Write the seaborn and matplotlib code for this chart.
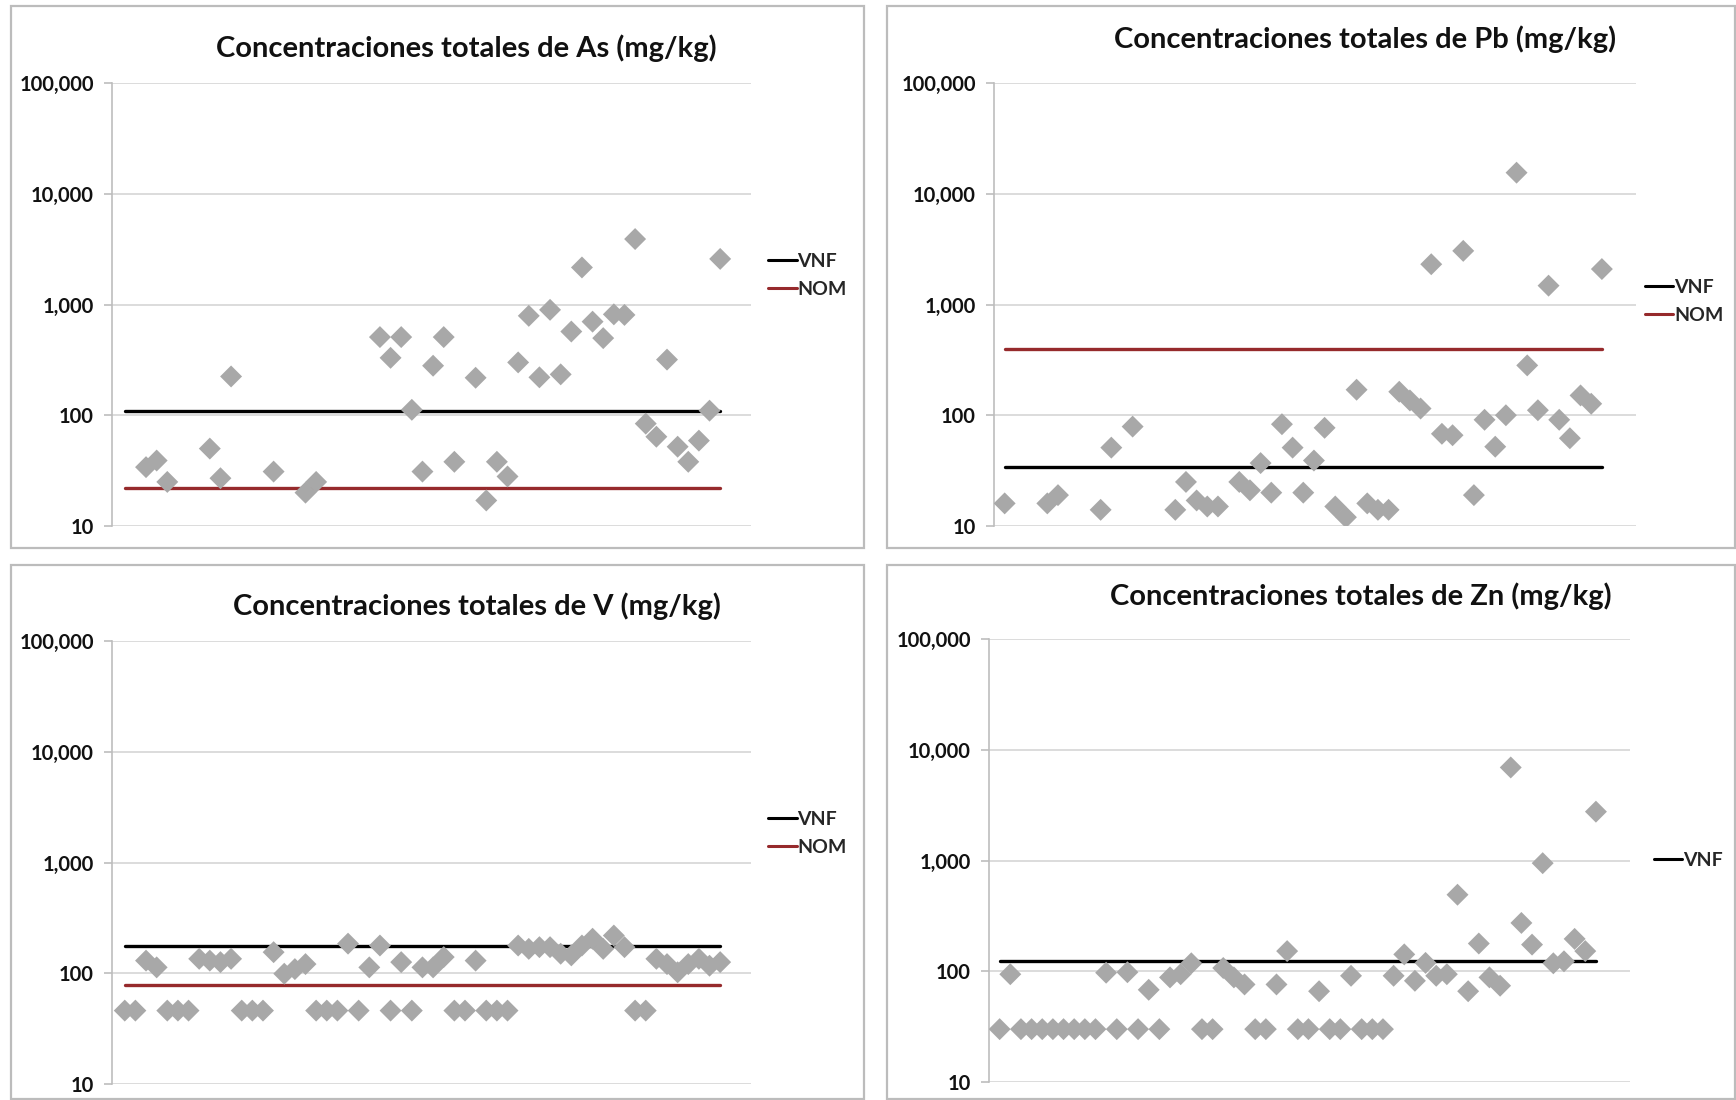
import numpy as np
import pandas as pd
import matplotlib
matplotlib.use("Agg")
import matplotlib.pyplot as plt
import seaborn as sns
from matplotlib.patches import Rectangle
from matplotlib.ticker import FixedLocator, FixedFormatter, NullLocator

nan = np.nan

# muestras (posición de categoría en el eje x)
muestra = list(range(57))

# concentraciones totales (mg/kg); nan = sin dato
as_vals = [nan, nan, 34, 39, 25, nan, nan, nan, 50, 27, 224, nan, nan, nan, 31, nan, nan, 20, 25, nan,
           nan, nan, nan, nan, 508, 330, 508, 112, 31, 280, 508, 38, nan, 218, 17, 38, 28, 300, 790, 220,
           895, 234, 570, 2160, 700, 497, 815, 805, 3900, 84, 64, 318, 52, 38, 59, 110, 2580]
pb_vals = [16, nan, nan, nan, 16, 19, nan, nan, nan, 14, 51, nan, 79, nan, nan, nan, 14, 25, 17, 15,
           15, nan, 25, 21, 37, 20, 83, 51, 20, 39, 77, 15, 12, 170, 16, 14, 14, 163, 136, 115,
           2310, 68, 66, 3050, 19, 91, 52, 100, 15500, 282, 111, 1480, 91, 62, 151, 127, 2090]
v_vals = [46, 46, 130, 113, 46, 46, 46, 135, 130, 126, 135, 46, 46, 46, 155, 99, 109, 121, 46, 46,
          46, 185, 46, 113, 178, 46, 126, 46, 113, 113, 140, 46, 46, 130, 46, 46, 46, 178, 166, 172,
          172, 150, 145, 178, 205, 166, 219, 172, 46, 46, 135, 121, 102, 121, 135, 117, 126]
zn_vals = [30, 94, 30, 30, 30, 30, 30, 30, 30, 30, 97, 30, 98, 30, 68, 30, 88, 94, 118, 30,
           30, 107, 88, 76, 30, 30, 76, 152, 30, 30, 66, 30, 30, 91, 30, 30, 30, 91, 142, 82,
           119, 91, 94, 491, 66, 178, 88, 74, 6920, 273, 174, 946, 118, 123, 196, 152, 2760]

elementos = ["As", "Pb", "V", "Zn"]
vnf = [110, 34, 177, 124]
nom = [22, 400, 78, None]

yticks = [10, 100, 1000, 10000, 100000]
ytick_labels = ["10", "100", "1,000", "10,000", "100,000"]

sns.set_theme(style="white")
plt.rcParams["font.family"] = ["Lato", "DejaVu Sans"]

W, H = 1736, 1100
fig = plt.figure(figsize=(W / 100, H / 100), dpi=100)

# geometría de cada gráfico en píxeles: (izq, der, arriba, abajo) del área de trazado
paneles = [
    dict(plot=(112, 751, 83, 526), borde=(11, 864, 6, 548), titulo=(466, 48), xlim=(-1.2, 58.9), leg=(1.015, 0.566)),
    dict(plot=(994, 1636, 83, 526), borde=(887, 1735, 6, 548), titulo=(1365, 39), xlim=(-1.0, 59.2), leg=(1.002, 0.507)),
    dict(plot=(112, 751, 641, 1084), borde=(11, 864, 565, 1099), titulo=(477, 606), xlim=(-1.2, 58.9), leg=(1.015, 0.566)),
    dict(plot=(989, 1630, 639, 1082), borde=(887, 1735, 565, 1099), titulo=(1361, 596), xlim=(-1.0, 59.2), leg=(1.025, 0.501)),
]
valores = [as_vals, pb_vals, v_vals, zn_vals]

for el, vals, lim_vnf, lim_nom, p in zip(elementos, valores, vnf, nom, paneles):
    l, r, t, b = p["plot"]
    ax = fig.add_axes([l / W, 1 - b / H, (r - l) / W, (b - t) / H])

    df = pd.DataFrame({"muestra": muestra, "conc": vals})
    df["VNF"] = lim_vnf

    sns.lineplot(data=df, x="muestra", y="VNF", ax=ax, color="black", linewidth=2.4,
                 label="VNF", zorder=2)
    if lim_nom is not None:
        df["NOM"] = lim_nom
        sns.lineplot(data=df, x="muestra", y="NOM", ax=ax, color="#962a2c", linewidth=2.4,
                     label="NOM", zorder=2)
    sns.scatterplot(data=df.dropna(subset=["conc"]), x="muestra", y="conc", ax=ax, marker="D",
                    s=125, color="#a8a8a8", edgecolor="none", zorder=3)

    ax.set_yscale("log")
    ax.set_ylim(10, 100000)
    ax.set_xlim(*p["xlim"])
    ax.yaxis.set_major_locator(FixedLocator(yticks))
    ax.yaxis.set_major_formatter(FixedFormatter(ytick_labels))
    ax.yaxis.set_minor_locator(NullLocator())
    ax.xaxis.set_major_locator(NullLocator())
    ax.set_xlabel("")
    ax.set_ylabel("")
    ax.grid(axis="y", color="#d6d6d6", linewidth=1.2)
    ax.set_axisbelow(True)
    for s in ["top", "right", "bottom"]:
        ax.spines[s].set_visible(False)
    ax.spines["left"].set_color("#bdbdbd")
    ax.spines["left"].set_linewidth(1.2)
    ax.tick_params(axis="y", which="major", left=True, length=6, width=1.2, color="#bdbdbd",
                   pad=7, labelsize=14.5, labelcolor="#111111")
    for lab in ax.get_yticklabels():
        lab.set_fontweight("bold")

    leg = ax.legend(loc="center left", bbox_to_anchor=p["leg"], frameon=False,
                    handlelength=1.45, handletextpad=0.05, labelspacing=0.55,
                    prop={"weight": "bold", "size": 14}, borderaxespad=0)
    for h in leg.get_lines():
        h.set_linewidth(2.2)

    bl, br, bt, bb = p["borde"]
    fig.patches.append(Rectangle((bl / W, 1 - bb / H), (br - bl) / W, (bb - bt) / H,
                                 transform=fig.transFigure, fill=False,
                                 edgecolor="#bcbcbc", linewidth=1.6))

    tx, ty = p["titulo"]
    fig.text(tx / W, 1 - ty / H, f"Concentraciones totales de {el} (mg/kg)",
             ha="center", va="center", fontsize=21, fontweight="bold", color="#111111")

fig.savefig("out.png", dpi=100, facecolor="white")
